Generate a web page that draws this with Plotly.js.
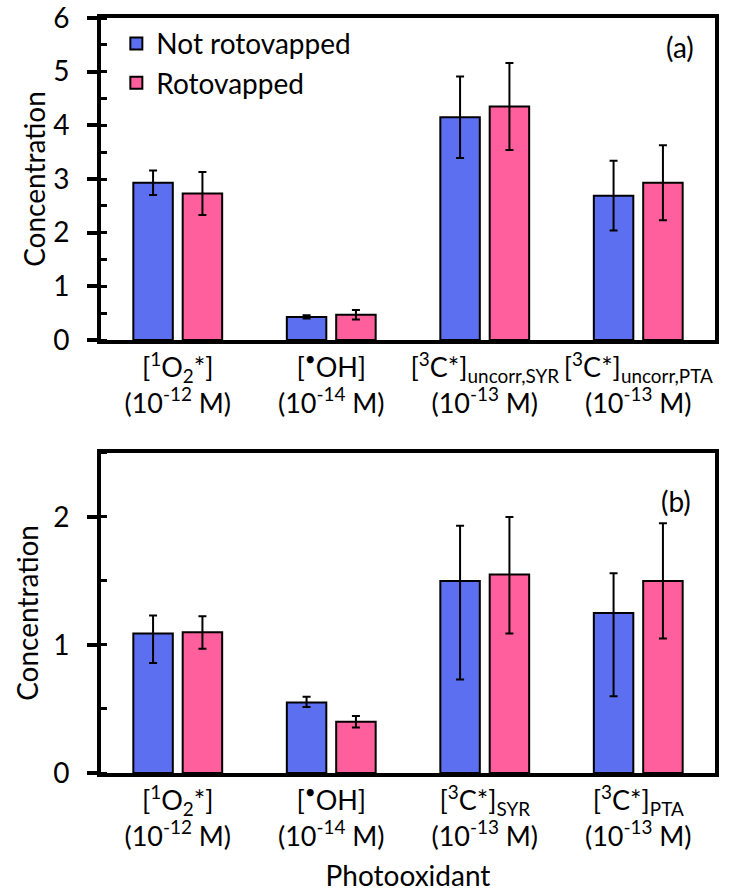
<!DOCTYPE html>
<html>
<head>
<meta charset="utf-8">
<script src="https://cdn.plot.ly/plotly-3.0.1.min.js"></script>
<style>html,body{margin:0;padding:0;background:#fff;}#chart{width:735px;height:892px;}</style>
</head>
<body>
<div id="chart"></div>
<script>
// ---- data ----
const seriesNames = ['Not rotovapped', 'Rotovapped'];

const categoriesA = [
  '[<sup>1</sup>O<sub>2</sub>*]<br>(10<sup>-12</sup> M)',
  '[<sup>•</sup>OH]<br>(10<sup>-14</sup> M)',
  '[<sup>3</sup>C*]<sub>uncorr,SYR</sub><br>(10<sup>-13</sup> M)',
  '[<sup>3</sup>C*]<sub>uncorr,PTA</sub><br>(10<sup>-13</sup> M)'
];
const notRotoA = [2.93, 0.43, 4.15, 2.69];
const notRotoErrA = [0.23, 0.03, 0.76, 0.65];
const rotoA = [2.73, 0.47, 4.35, 2.93];
const rotoErrA = [0.40, 0.09, 0.81, 0.70];

const categoriesB = [
  '[<sup>1</sup>O<sub>2</sub>*]<br>(10<sup>-12</sup> M)',
  '[<sup>•</sup>OH]<br>(10<sup>-14</sup> M)',
  '[<sup>3</sup>C*]<sub>SYR</sub><br>(10<sup>-13</sup> M)',
  '[<sup>3</sup>C*]<sub>PTA</sub><br>(10<sup>-13</sup> M)'
];
const notRotoB = [1.09, 0.55, 1.50, 1.25];
const notRotoErrPlusB = [0.14, 0.045, 0.43, 0.31];
const notRotoErrMinusB = [0.23, 0.035, 0.77, 0.65];
const rotoB = [1.10, 0.40, 1.55, 1.50];
const rotoErrPlusB = [0.125, 0.045, 0.45, 0.45];
const rotoErrMinusB = [0.13, 0.045, 0.46, 0.45];

// ---- styles ----
const FONT = 'Lato, "Open Sans", sans-serif';
const BLUE = '#5b6ff0';
const PINK = '#ff5f9c';
const errStyle = {color: '#000', thickness: 2, width: 4};

function bar(name, x, y, color, err, xa, ya, showlegend) {
  return {
    type: 'bar', name: name, x: x, y: y, xaxis: xa, yaxis: ya,
    showlegend: showlegend,
    marker: {color: color, line: {color: '#000', width: 2}},
    error_y: Object.assign({type: 'data'}, err, errStyle)
  };
}

const data = [
  bar(seriesNames[0], categoriesA, notRotoA, BLUE, {array: notRotoErrA}, 'x', 'y', true),
  bar(seriesNames[1], categoriesA, rotoA, PINK, {array: rotoErrA}, 'x', 'y', true),
  bar(seriesNames[0], categoriesB, notRotoB, BLUE, {array: notRotoErrPlusB, arrayminus: notRotoErrMinusB, symmetric: false}, 'x2', 'y2', false),
  bar(seriesNames[1], categoriesB, rotoB, PINK, {array: rotoErrPlusB, arrayminus: rotoErrMinusB, symmetric: false}, 'x2', 'y2', false)
];

function xAxis(anchor, title) {
  const ax = {
    anchor: anchor, domain: [0, 1], type: 'category',
    showline: true, linecolor: '#000', linewidth: 4, mirror: true,
    ticks: '', showgrid: false, zeroline: false, ticklabelstandoff: 1,
    tickfont: {family: FONT, size: 27, color: '#000'}
  };
  if (title) ax.title = {text: title, font: {family: FONT, size: 28, color: '#000'}, standoff: 20};
  return ax;
}
function yAxis(anchor, domain, range, standoff) {
  return {
    anchor: anchor, domain: domain, range: range, dtick: 1, tick0: 0,
    showline: true, linecolor: '#000', linewidth: 4, mirror: true,
    ticks: 'outside', ticklen: 10, tickwidth: 4, tickcolor: '#000',
    ticklabelstandoff: 12, ticklabeloverflow: 'allow',
    minor: {dtick: 0.5, ticks: 'inside', ticklen: 6, tickwidth: 3, tickcolor: '#000'},
    showgrid: false, zeroline: false,
    tickfont: {family: FONT, size: 28, color: '#000'},
    title: {text: 'Concentration', font: {family: FONT, size: 28, color: '#000'}, standoff: standoff}
  };
}
function yInner(overlay, anchor, domain, range) {
  return {
    overlaying: overlay, anchor: anchor, domain: domain, range: range, dtick: 1, tick0: 0,
    showline: false, ticks: 'inside', ticklen: 9, tickwidth: 4, tickcolor: '#000',
    showticklabels: false, showgrid: false, zeroline: false
  };
}

const domA = [0.5735, 1];
const domB = [0, 0.424];

const layout = {
  width: 735, height: 892,
  margin: {l: 101, r: 20, t: 18, b: 119},
  paper_bgcolor: '#fff', plot_bgcolor: '#fff',
  barmode: 'group', bargap: 0.357, bargroupgap: 0.2,
  font: {family: FONT, color: '#000'},
  xaxis: xAxis('y'),
  yaxis: yAxis('x', domA, [0, 6], 0),
  xaxis2: xAxis('y2', 'Photooxidant'),
  yaxis2: yAxis('x2', domB, [0, 2.5], 7),
  yaxis3: yInner('y', 'x', domA, [0, 6]),
  yaxis4: yInner('y2', 'x2', domB, [0, 2.5]),
  showlegend: true,
  legend: {
    x: 0.025, y: 0.999, xanchor: 'left', yanchor: 'top',
    font: {family: FONT, size: 28, color: '#000'},
    bgcolor: 'rgba(0,0,0,0)', tracegroupgap: 0
  },
  annotations: [
    {text: '(a)', xref: 'paper', yref: 'paper', x: 0.943, y: 0.9616, showarrow: false,
     xanchor: 'center', yanchor: 'middle',
     font: {family: FONT, size: 28, color: '#000'}},
    {text: '(b)', xref: 'paper', yref: 'paper', x: 0.9365, y: 0.36, showarrow: false,
     xanchor: 'center', yanchor: 'middle',
     font: {family: FONT, size: 28, color: '#000'}}
  ]
};

Plotly.newPlot('chart', data, layout, {displayModeBar: false, staticPlot: true});
</script>
</body>
</html>
